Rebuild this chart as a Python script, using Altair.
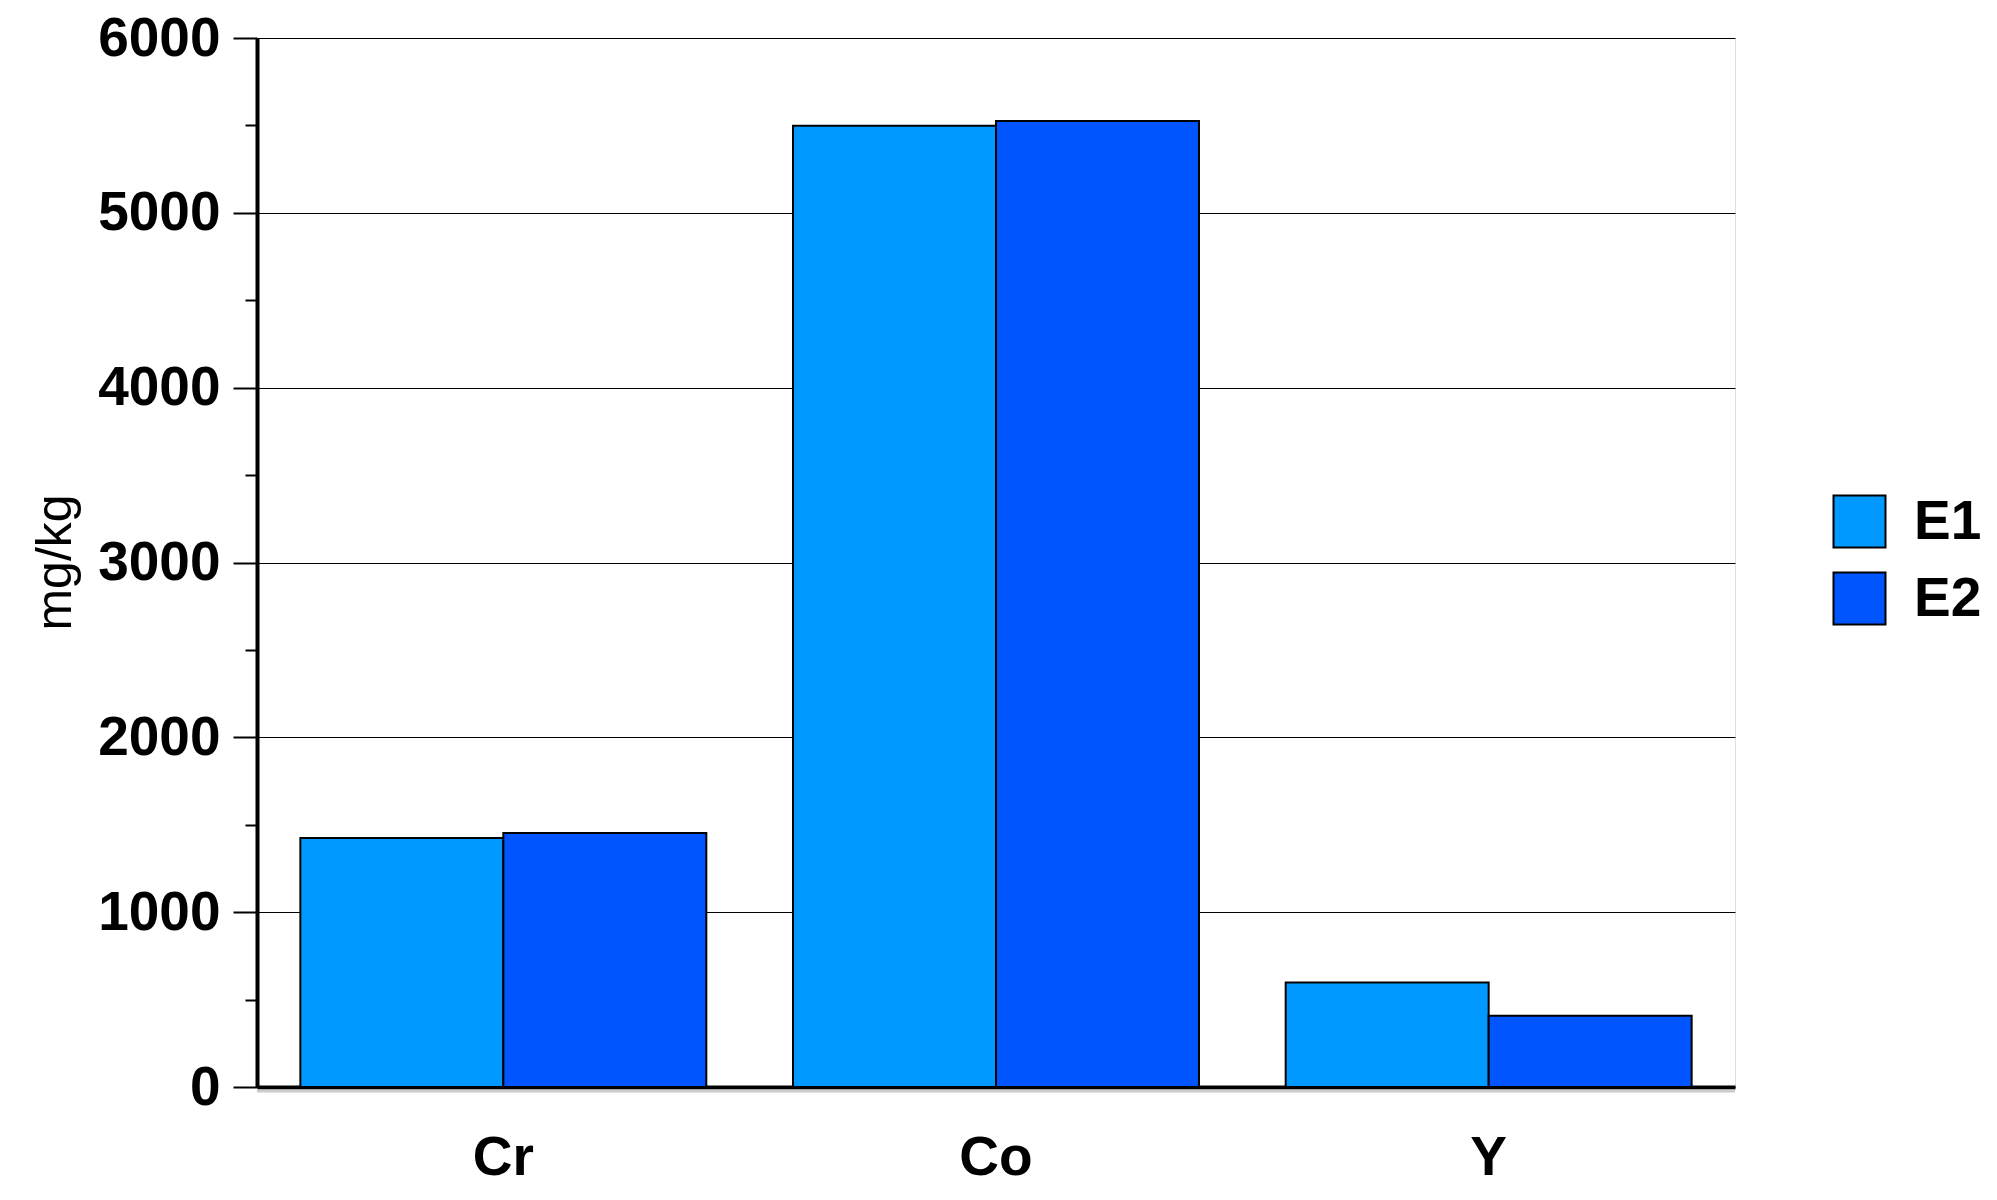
import altair as alt
import pandas as pd

elements = ["Cr", "Co", "Y"]
series = ["E1", "E2"]
e1_values = [1424, 5498, 597]
e2_values = [1453, 5525, 408]
colors = ["#0099FF", "#0055FF"]
y_ticks = [0, 1000, 2000, 3000, 4000, 5000, 6000]
minor_ticks = [500, 1500, 2500, 3500, 4500, 5500]

rows = []
for i, el in enumerate(elements):
    rows.append({"element": el, "series": "E1", "value": e1_values[i]})
    rows.append({"element": el, "series": "E2", "value": e2_values[i]})
df = pd.DataFrame(rows)

W, H = 1478, 1049
FONT = "Liberation Sans"
FS = 55

yscale = alt.Scale(domain=[0, 6000], nice=False)

bars = alt.Chart(df).mark_bar(stroke="black", strokeWidth=2).encode(
    x=alt.X(
        "element:N",
        sort=elements,
        scale=alt.Scale(paddingInner=0.176, paddingOuter=0.088),
        axis=alt.Axis(
            title=None, labelAngle=0, ticks=False, tickSize=0, labelPadding=44,
            labelFontSize=FS, labelFontWeight="bold", labelColor="black",
            domainColor="black", domainWidth=4, labelFont=FONT,
        ),
    ),
    xOffset=alt.XOffset("series:N", sort=series, scale=alt.Scale(paddingInner=0, paddingOuter=0)),
    y=alt.Y(
        "value:Q",
        scale=yscale,
        axis=alt.Axis(
            values=y_ticks, format="d", title="mg/kg", tickSize=24, tickWidth=2,
            tickColor="black", grid=True, gridColor="black", gridWidth=1, gridOpacity=1,
            domainColor="black", domainWidth=4, labelFontSize=FS, labelFontWeight="bold",
            labelColor="black", labelPadding=13, labelFont=FONT,
            titleFont=FONT, titleFontSize=50, titleFontWeight="normal", titleColor="black",
            titleAngle=270, titleX=-202, titleY=524, titleAlign="center", titleBaseline="middle",
        ),
    ),
    color=alt.Color(
        "series:N",
        scale=alt.Scale(domain=series, range=colors),
        legend=alt.Legend(
            title=None, orient="none", legendX=1575, legendY=456, symbolType="square",
            symbolSize=2704, symbolStrokeColor="black", symbolStrokeWidth=2,
            symbolOpacity=1, labelFontSize=FS, labelFontWeight="bold", labelFont=FONT,
            labelColor="black", labelOffset=27, rowPadding=16,
        ),
    ),
)

minor = alt.Chart(pd.DataFrame({"v": minor_ticks})).mark_point(opacity=0).encode(
    y=alt.Y(
        "v:Q",
        scale=yscale,
        axis=alt.Axis(
            orient="left", values=minor_ticks, labels=False, grid=False, domain=False,
            tickSize=12, tickWidth=2, tickColor="black", title=None,
        ),
    )
)

shadow = alt.Chart(pd.DataFrame({"a": [0]})).mark_rule(color="#cccccc", strokeWidth=3).encode(
    x=alt.value(0), x2=alt.value(W), y=alt.value(H + 4)
)

chart = (
    alt.layer(shadow, bars, minor)
    .resolve_axis(y="independent")
    .properties(
        width=W,
        height=H,
        autosize=alt.AutoSizeParams(type="none"),
        padding={"left": 249, "top": 30, "right": 254, "bottom": 105},
    )
    .configure_view(stroke="black", strokeWidth=1)
    .configure(font=FONT)
)

chart.save("out.html", embed_options={"renderer": "svg", "actions": False})
